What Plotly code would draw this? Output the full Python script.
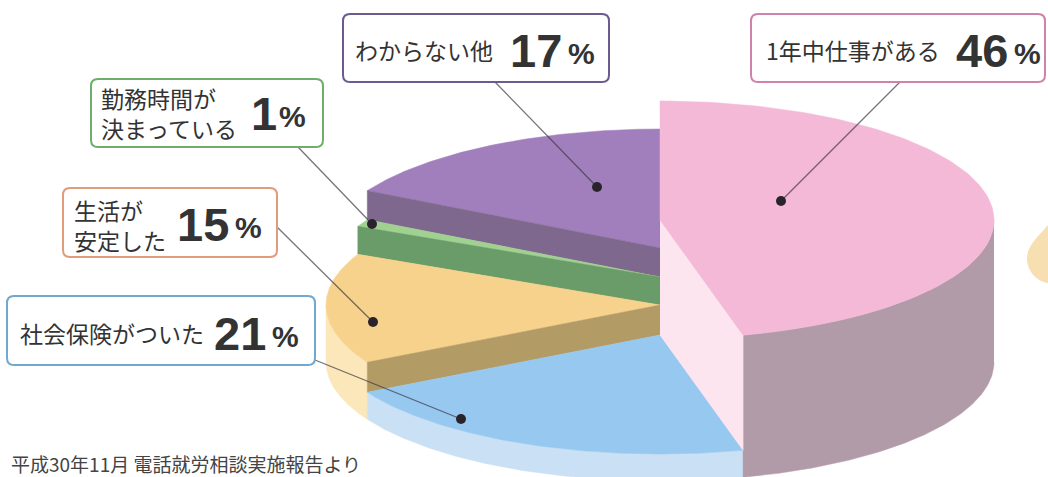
import numpy as np
import plotly.graph_objects as go

# ---- data ----
categories = ["1年中仕事がある", "社会保険がついた", "生活が<br>安定した", "勤務時間が<br>決まっている", "わからない他"]
values = [46, 21, 15, 1, 17]
footer = "平成30年11月 電話就労相談実施報告より"

# ---- geometry of the stepped pie (pixels, axes are 1:1 with the page) ----
CX, GROUND, RX, RY = 660, 362, 334, 119
heights = [142, 27, 57, 85, 114]          # raised height of each slice above the base

top_col = ["#f4b9d6", "#97c8f0", "#f7d28c", "#a0d191", "#a07fbc"]
cut_col = ["#fde5f0", None, "#b39b66", "#6a9c69", "#7f688e"]   # wall on the clockwise-first edge
rim_col = ["#b29ba9", "#c9e0f5", "#fbe7b9", None, None]        # outer wall

edges = np.concatenate([[0], np.cumsum(values)]) / sum(values) * 2 * np.pi


def px(theta, h, scale=1.0):
    return CX + RX * scale * np.sin(theta), GROUND - h - RY * scale * np.cos(theta)


fig = go.Figure()


def face(xs, ys, color):
    fig.add_trace(go.Scatter(x=xs, y=ys, mode="lines", fill="toself", fillcolor=color,
                             line=dict(color=color, width=0.5), hoverinfo="skip", showlegend=False))


def top(i):
    t = np.linspace(edges[i], edges[i + 1], 120)
    x, y = px(t, heights[i])
    face(np.r_[CX, x, CX], np.r_[GROUND - heights[i], y, GROUND - heights[i]], top_col[i])


def rim(i):
    lo, hi = edges[i], min(edges[i + 1], 1.5 * np.pi)
    lo = max(lo, 0.5 * np.pi)
    t = np.linspace(lo, hi, 120)
    x1, y1 = px(t, heights[i])
    x0, y0 = px(t[::-1], 0)
    face(np.r_[x1, x0], np.r_[y1, y0], rim_col[i])


def cut(i, theta, low):
    x, y = px(theta, heights[i])
    x0, y0 = px(theta, low)
    face([CX, x, x0, CX], [GROUND - heights[i], y, y0, GROUND - low], cut_col[i])


PURPLE, GREEN, YELLOW, BLUE, PINK = 4, 3, 2, 1, 0
top(PURPLE)
cut(PURPLE, edges[PURPLE], heights[GREEN])
top(GREEN)
cut(GREEN, edges[GREEN], heights[YELLOW])
rim(YELLOW)
top(YELLOW)
cut(YELLOW, edges[YELLOW], heights[BLUE])
rim(BLUE)
top(BLUE)
rim(PINK)
cut(PINK, edges[PINK + 1], 27)
top(PINK)

# ---- callouts: box (x0, y0, x1, y1), leader start, dot, text placement ----
callouts = [
    dict(i=0, box=(751, 14, 1045, 82), start=(900, 82), dot=(781, 201), col="#cf82ab",
         tx=764, ty=50, nx=954, ny=50, px_=1012),
    dict(i=1, box=(7, 296, 315, 365), start=(315, 360), dot=(461, 419), col="#6fa9d2",
         tx=18, ty=333, nx=212, ny=333, px_=270),
    dict(i=2, box=(63, 188, 277, 257), start=(277, 227), dot=(373, 322), col="#e09c7c",
         tx=72, ty=225, nx=175, ny=224, px_=233),
    dict(i=3, box=(91, 79, 323, 147), start=(298, 147), dot=(372, 224), col="#6fae6a",
         tx=99, ty=113, nx=249, ny=113, px_=277),
    dict(i=4, box=(343, 14, 609, 82), start=(495, 82), dot=(597, 187), col="#6b5b8e",
         tx=353, ty=50, nx=508, ny=50, px_=566),
]

shapes = []
annotations = []
R = 7


def round_rect(x0, y0, x1, y1):
    return (f"M{x0+R},{y0} L{x1-R},{y0} Q{x1},{y0} {x1},{y0+R} L{x1},{y1-R} Q{x1},{y1} {x1-R},{y1} "
            f"L{x0+R},{y1} Q{x0},{y1} {x0},{y1-R} L{x0},{y0+R} Q{x0},{y0} {x0+R},{y0} Z")


def text(x, y, s, size, bold=False, family="Noto Sans CJK JP", color="#333333"):
    annotations.append(dict(x=x, y=y, xref="x", yref="y", text=f"<b>{s}</b>" if bold else s,
                            showarrow=False, xanchor="left", yanchor="middle", align="left",
                            font=dict(family=family, size=size, color=color)))


for c in callouts:
    fig.add_trace(go.Scatter(x=[c["start"][0], c["dot"][0]], y=[c["start"][1], c["dot"][1]],
                             mode="lines", line=dict(color="rgba(60,55,65,0.7)", width=1.3),
                             hoverinfo="skip", showlegend=False))
    fig.add_trace(go.Scatter(x=[c["dot"][0]], y=[c["dot"][1]], mode="markers",
                             marker=dict(size=10, color="#29242c"),
                             hoverinfo="skip", showlegend=False))
    shapes.append(dict(type="path", path=round_rect(*c["box"]), fillcolor="white",
                       line=dict(color=c["col"], width=2)))
    text(c["tx"], c["ty"], categories[c["i"]], 23)
    text(c["nx"], c["ny"], str(values[c["i"]]), 47, True, "Liberation Sans")
    text(c["px_"], c["ny"] + 3, "%", 30, True, "Liberation Sans")

# partly cropped illustration at the right edge
shapes.append(dict(type="path", path="M1048,225 C1040,235 1027,245 1027,258 C1027,272 1038,282 1048,283 Z",
                   fillcolor="#f8dfb2", line=dict(width=0)))

text(9, 463, footer, 19, color="#444444")

fig.update_layout(
    width=1048, height=477, margin=dict(l=0, r=0, t=0, b=0),
    paper_bgcolor="white", plot_bgcolor="white", showlegend=False,
    xaxis=dict(range=[0, 1048], visible=False, fixedrange=True),
    yaxis=dict(range=[477, 0], visible=False, fixedrange=True),
    shapes=shapes, annotations=annotations,
)
fig.write_html("out.html", config=dict(displayModeBar=False),
               post_script="document.body.style.margin='0';document.documentElement.style.overflow='hidden';")
